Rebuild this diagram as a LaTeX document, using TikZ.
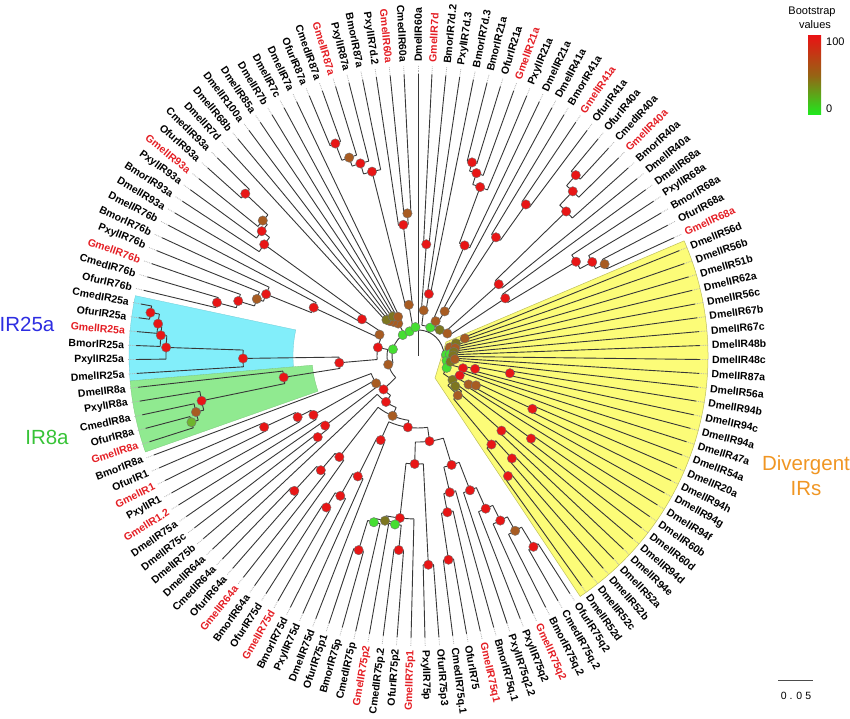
\documentclass[tikz,border=0pt]{standalone}
\usepackage{fontspec}
\setmainfont{Liberation Sans}
\definecolor{dred}{RGB}{232,22,22}
\definecolor{dbrown}{RGB}{168,92,34}
\definecolor{dolive}{RGB}{125,118,32}
\definecolor{dgreen}{RGB}{70,222,50}
\definecolor{dlgreen}{RGB}{110,180,45}
\definecolor{labred}{RGB}{228,30,36}
\definecolor{cyanf}{RGB}{130,238,250}
\definecolor{greenf}{RGB}{144,234,144}
\definecolor{yellowf}{RGB}{252,252,120}
\definecolor{brc}{RGB}{55,55,55}
\definecolor{lgtop}{RGB}{232,20,20}
\definecolor{lgmid}{RGB}{150,100,20}
\definecolor{lgbot}{RGB}{30,235,30}
\definecolor{bigblue}{RGB}{45,45,225}
\definecolor{biggreen}{RGB}{55,195,55}
\definecolor{bigorange}{RGB}{240,150,35}
\tikzset{
  br/.style={draw=brc,line width=0.9pt},
  ext/.style={draw=black!30,densely dotted,line width=0.8pt},
  lab/.style={inner sep=0pt,font=\fontsize{10.5}{13}\selectfont\bfseries},
  txt/.style={inner sep=0pt,font=\fontsize{11}{13}\selectfont},
  big/.style={inner sep=0pt,font=\fontsize{20.5}{24}\selectfont},
}
\newif\ifdotpass
\newcommand\arcr[3]{\ifdotpass\else
  \pgfmathsetmacro\tA{90-((#1)-1)*2.834646}%
  \pgfmathsetmacro\tB{90-((#2)-1)*2.834646}%
  \draw[br] (\tA:#3pt) arc[start angle=\tA,end angle=\tB,radius=#3pt];\fi}
\newcommand\stem[3]{\ifdotpass\else
  \pgfmathsetmacro\tA{90-((#1)-1)*2.834646}%
  \draw[br] (\tA:#2pt) -- (\tA:#3pt);\fi}
\newcommand\dt[3]{\ifdotpass
  \pgfmathsetmacro\tA{90-((#1)-1)*2.834646}%
  \fill[#3,draw=black!55,line width=0.4pt] (\tA:#2pt) circle[radius=4.7pt];\fi}
\newcommand\cl[5]{\pgfmathsetmacro\pM{((#1)+(#2))/2}%
  \arcr{#1}{#2}{#3}\stem{\pM}{#4}{#3}\dt{\pM}{#3}{#5}}
\newcommand\lf[4]{\ifdotpass\else
  \pgfmathsetmacro\tA{90-((#1)-1)*2.834646}%
  \draw[br] (\tA:#2pt) -- (\tA:282pt);
  \draw[ext] (\tA:282pt) -- (\tA:291pt);
  \ifdim\tA pt>270pt
    \node[lab,text=#4,anchor=west,rotate=\tA] (n#1) at (\tA:294pt) {#3};
  \else\ifdim\tA pt>90.01pt
    \pgfmathsetmacro\tB{\tA-180}%
    \node[lab,text=#4,anchor=east,rotate=\tB] (n#1) at (\tA:294pt) {#3};
  \else
    \node[lab,text=#4,anchor=west,rotate=\tA] (n#1) at (\tA:294pt) {#3};
  \fi\fi\fi}
\newcommand\lb[3]{\lf{#1}{#2}{#3}{black}}
\newcommand\lr[3]{\lf{#1}{#2}{#3}{labred}}
\newcommand\treebody{%
\stem{1}{0}{26}
\arcr{-36.4}{31.73}{26}
\dt{-25.5}{26}{dgreen}\dt{-11.7}{26}{dgreen}\dt{-5.7}{26}{dgreen}
% ---- lower left group
\cl{-46.31}{-26.49}{31}{26}{dbrown}
\cl{-50.19}{-42.4375}{48}{31}{dred}
\cl{-54.38}{-46}{56}{48}{dred}
\lb{-46}{56}{DmelIR64a}
\cl{-59.635}{-49.125}{65}{56}{dbrown}
\cl{-65.21}{-54.0625}{72}{65}{dred}
\cl{-61.875}{-68.55}{86}{72}{dred}
\cl{-60.25}{-63.5}{108}{86}{dred}
\cl{-58.5}{-62}{163}{108}{dred}
\lr{-62}{163}{GmelIR75p1}
\cl{-57.25}{-59.75}{168}{163}{dolive}
\cl{-56.5}{-58}{172}{168}{dgreen}
\cl{-57}{-56}{203}{172}{dred}
\lb{-57}{203}{BmorIR75p}
\lb{-56}{203}{OfurIR75p1}
\lb{-58}{172}{CmedIR75p}
\cl{-60.5}{-59}{170}{168}{dgreen}
\cl{-61}{-60}{195}{170}{dred}
\lb{-61}{195}{OfurIR75p2}
\lb{-60}{195}{CmedIR75p.2}
\lr{-59}{170}{GmelIR75p2}
\cl{-64}{-63}{209}{108}{dred}
\lb{-64}{209}{OfurIR75p3}
\lb{-63}{209}{PxylIR75p}
\cl{-67.125}{-69.97}{114}{86}{dred}
\cl{-68}{-66.25}{140}{114}{dred}
\lb{-68}{140}{BmorIR75q.1}
\cl{-67}{-65.5}{159}{140}{dred}
\lr{-67}{159}{GmelIR75q1}
\cl{-66}{-65}{206}{159}{dred}
\lb{-66}{206}{OfurIR75}
\lb{-65}{206}{CmedIR75q.1}
\cl{-70.9375}{-69}{144}{114}{dred}
\lb{-69}{144}{PxylIR75q2.2}
\cl{-71.875}{-70}{167}{144}{dred}
\lb{-70}{167}{PxylIR75q2}
\cl{-72.75}{-71}{184}{167}{dred}
\lr{-71}{184}{GmelIR75q2}
\cl{-73.5}{-72}{200}{184}{dbrown}
\lb{-72}{200}{BmorIR75q.2}
\cl{-74}{-73}{223}{200}{dred}
\lb{-74}{223}{OfurIR75q2}
\lb{-73}{223}{CmedIR75q.2}
\cl{-55}{-53.125}{92}{72}{dred}
\lb{-55}{92}{DmelIR75d}
\cl{-54}{-52.25}{134.6}{92}{dred}
\lb{-54}{134.6}{PxylIR75d}
\cl{-53}{-51.5}{160}{134.6}{dred}
\lb{-53}{160}{BmorIR75d}
\cl{-52}{-51}{177}{160}{dred}
\lr{-52}{177}{GmelIR75d}
\lb{-51}{177}{OfurIR75d}
\cl{-50}{-48.25}{128}{65}{dred}
\lb{-50}{128}{BmorIR64a}
\cl{-49}{-47.5}{150}{128}{dred}
\lr{-49}{150}{GmelIR64a}
\cl{-48}{-47}{183}{150}{dred}
\lb{-48}{183}{OfurIR64a}
\lb{-47}{183}{CmedIR64a}
\cl{-43.75}{-41.125}{50}{48}{dbrown}
\arcr{-41.125}{-38}{50}
\lb{-38}{50}{BmorIR8a}
\cl{-44.5}{-43}{116}{50}{dred}
\cl{-45}{-44}{129}{116}{dred}
\lb{-45}{129}{DmelIR75b}
\lb{-44}{129}{DmelIR75c}
\lb{-43}{116}{DmelIR75a}
\cl{-42}{-40.25}{120}{50}{dred}
\lr{-42}{120}{GmelIR1.2}
\cl{-41}{-39.5}{135}{120}{dred}
\lb{-41}{135}{PxylIR1}
\cl{-40}{-39}{169.5}{135}{dred}
\lr{-40}{169.5}{GmelIR1}
\lb{-39}{169.5}{OfurIR1}
% ---- IR25a / IR8a / 76b / 93a
\cl{-32.485}{-20.5}{41}{31}{dred}
\cl{-31.03}{-33.94}{79}{41}{dred}
\cl{-32}{-30.0625}{175}{79}{dred}
\lb{-32}{175}{DmelIR25a}
\cl{-31}{-29.125}{252}{175}{dred}
\lb{-31}{252}{PxylIR25a}
\cl{-30}{-28.25}{258}{252}{dred}
\lb{-30}{258}{BmorIR25a}
\cl{-29}{-27.5}{262}{258}{dred}
\lr{-29}{262}{GmelIR25a}
\cl{-28}{-27}{271}{262}{dred}
\lb{-28}{271}{OfurIR25a}
\lb{-27}{271}{CmedIR25a}
\cl{-34.875}{-33}{136}{79}{dred}
\lb{-33}{136}{DmelIR8a}
\cl{-35.75}{-34}{221}{136}{dred}
\lb{-34}{221}{PxylIR8a}
\cl{-36.5}{-35}{229}{221}{dbrown}
\lb{-35}{229}{CmedIR8a}
\cl{-37}{-36}{236}{229}{dlgreen}
\lr{-37}{236}{GmelIR8a}
\lb{-36}{236}{OfurIR8a}
\cl{-21.97}{-19.03}{44}{41}{dbrown}
\cl{-22.9375}{-21}{115}{44}{dred}
\lb{-21}{115}{DmelIR76b}
\cl{-23.875}{-22}{164}{115}{dred}
\lb{-22}{164}{BmorIR76b}
\cl{-24.75}{-23}{171}{164}{dbrown}
\lb{-23}{171}{PxylIR76b}
\cl{-25.5}{-24}{188}{171}{dred}
\lr{-24}{188}{GmelIR76b}
\cl{-26}{-25}{208}{188}{dred}
\lb{-26}{208}{OfurIR76b}
\lb{-25}{208}{CmedIR76b}
\cl{-20}{-18.0625}{67}{44}{dred}
\lb{-20}{67}{DmelIR93a}
\cl{-19}{-17.125}{190}{67}{dred}
\lb{-19}{190}{BmorIR93a}
\cl{-18}{-16.25}{200}{190}{dred}
\lb{-18}{200}{PxylIR93a}
\cl{-17}{-15.5}{206}{200}{dbrown}
\lr{-17}{206}{GmelIR93a}
\cl{-16}{-15}{237}{206}{dred}
\lb{-16}{237}{OfurIR93a}
\lb{-15}{237}{CmedIR93a}
% ---- Dmel comb
\cl{-11.625}{-8.5}{38}{26}{dbrown}
\cl{-12.75}{-10.5}{42}{38}{dbrown}
\cl{-13.5}{-12}{45}{42}{dbrown}
\cl{-14}{-13}{48}{45}{dolive}
\lb{-14}{48}{DmelIR7d}
\lb{-13}{48}{DmelIR68b}
\lb{-12}{45}{DmelIR100a}
\cl{-11}{-10}{47}{42}{dolive}
\lb{-11}{47}{DmelIR85a}
\lb{-10}{47}{DmelIR7b}
\cl{-9}{-8}{44}{38}{dbrown}
\lb{-9}{44}{DmelIR7c}
\lb{-8}{44}{DmelIR7a}
% ---- top
\cl{-2.595}{1}{29}{26}{dgreen}
\lb{1}{29}{DmelIR60a}
\cl{-3.94}{-1.25}{52}{29}{dbrown}
\cl{-4.875}{-3}{190}{52}{dred}
\lb{-3}{190}{BmorIR87a}
\cl{-5.75}{-4}{201}{190}{dred}
\lb{-4}{201}{PxylIR87a}
\cl{-6.5}{-5}{210}{201}{dbrown}
\lr{-5}{210}{GmelIR87a}
\cl{-7}{-6}{228}{210}{dred}
\lb{-7}{228}{OfurIR87a}
\lb{-6}{228}{CmedIR87a}
\cl{-2}{-0.5}{132}{52}{dred}
\lb{-2}{132}{PxylIR7d.2}
\cl{-1}{0}{143}{132}{dbrown}
\lr{-1}{143}{GmelIR60a}
\lb{0}{143}{CmedIR60a}
% ---- right
\cl{3.5}{14.985}{31}{26}{dgreen}
\cl{2.5}{4.5}{46}{31}{dbrown}
\cl{2}{3}{112}{46}{dred}
\lr{2}{112}{GmelIR7d}
\lb{3}{112}{BmorIR7d.2}
\cl{4}{5}{63}{46}{dred}
\lb{4}{63}{PxylIR7d.3}
\lb{5}{63}{BmorIR7d.3}
\cl{10.4675}{19.5}{34}{31}{dolive}
\cl{9.0625}{11.875}{39}{34}{dbrown}
\cl{8.125}{10}{120}{39}{dred}
\lb{10}{120}{DmelIR21a}
\cl{7.25}{9}{180}{120}{dred}
\lb{9}{180}{PxylIR21a}
\cl{6.5}{8}{192}{180}{dred}
\lr{8}{192}{GmelIR21a}
\cl{6}{7}{201}{192}{dred}
\lb{6}{201}{BmorIR21a}
\lb{7}{201}{OfurIR21a}
\cl{11}{12.75}{52}{39}{dbrown}
\lb{11}{52}{DmelIR41a}
\cl{12}{13.5}{142}{52}{dred}
\lb{12}{142}{BmorIR41a}
\cl{13}{14}{186}{142}{dred}
\lr{13}{186}{GmelIR41a}
\lb{14}{186}{OfurIR41a}
\cl{18.0625}{20.9375}{37}{34}{dbrown}
\cl{17.125}{19}{108}{37}{dred}
\lb{19}{108}{DmelIR40a}
\cl{16.25}{18}{207}{108}{dred}
\lb{18}{207}{BmorIR40a}
\cl{15.5}{17}{226}{207}{dred}
\lr{17}{226}{GmelIR40a}
\cl{15}{16}{240}{226}{dred}
\lb{15}{240}{OfurIR40a}
\lb{16}{240}{CmedIR40a}
\cl{20}{21.875}{104.6}{37}{dred}
\lb{20}{104.6}{DmelIR68a}
\cl{21}{22.75}{184}{104.6}{dred}
\lb{21}{184}{PxylIR68a}
\cl{22}{23.5}{198}{184}{dred}
\lb{22}{198}{BmorIR68a}
\cl{23}{24}{208}{198}{dbrown}
\lb{23}{208}{OfurIR68a}
\lr{24}{208}{GmelIR68a}
% ---- divergent
\cl{27.375}{36.0859}{28}{26}{dgreen}
\cl{26.25}{28.5}{33}{28}{dbrown}
\cl{25.5}{27}{40}{33}{dolive}
\cl{25}{26}{50}{40}{dbrown}
\lb{25}{50}{DmelIR56d}
\lb{26}{50}{DmelIR56b}
\lb{27}{40}{DmelIR51b}
\cl{28}{29}{38}{33}{dbrown}
\lb{28}{38}{DmelIR62a}
\lb{29}{38}{DmelIR56c}
\cl{31.5}{40.6719}{29}{28}{dgreen}
\cl{30.5}{32.5}{32}{29}{dgreen}
\cl{30}{31}{36}{32}{dolive}
\lb{30}{36}{DmelIR67b}
\lb{31}{36}{DmelIR67c}
\cl{32}{33}{35}{32}{dolive}
\lb{32}{35}{DmelIR48b}
\lb{33}{35}{DmelIR48c}
\cl{36.3125}{45.03125}{31}{29}{dgreen}
\cl{34.5}{38.125}{33}{31}{dolive}
\cl{34}{35}{37}{33}{dbrown}
\lb{34}{37}{DmelIR87a}
\lb{35}{37}{DmelIR56a}
\cl{37.25}{39}{46.6}{33}{dred}
\cl{36.5}{38}{58.5}{46.6}{dred}
\cl{36}{37}{93.5}{58.5}{dred}
\lb{36}{93.5}{DmelIR94b}
\lb{37}{93.5}{DmelIR94c}
\lb{38}{58.5}{DmelIR94a}
\lb{39}{46.6}{DmelIR47a}
\cl{41.5625}{48.5}{42}{31}{dolive}
\cl{40}{43.125}{46}{42}{dred}
\lb{40}{46}{DmelIR54a}
\cl{42.25}{44}{58}{46}{dbrown}
\cl{41.5}{43}{65}{58}{dbrown}
\cl{41}{42}{126}{65}{dred}
\lb{41}{126}{DmelIR20a}
\lb{42}{126}{DmelIR94h}
\lb{43}{65}{DmelIR94g}
\lb{44}{58}{DmelIR94f}
\cl{46.5}{50.5}{56}{42}{dbrown}
\cl{45.5}{47.5}{48}{56}{dolive}
\cl{45}{46}{140}{48}{dred}
\lb{45}{140}{DmelIR60b}
\lb{46}{140}{DmelIR60d}
\cl{47}{48}{112}{48}{dred}
\lb{47}{112}{DmelIR94d}
\lb{48}{112}{DmelIR94e}
\cl{49.5}{51.5}{115}{56}{dred}
\cl{49}{50}{139}{115}{dred}
\lb{49}{139}{DmelIR52a}
\lb{50}{139}{DmelIR52b}
\cl{51}{52}{150}{115}{dred}
\lb{51}{150}{DmelIR52c}
\lb{52}{150}{DmelIR52d}
}
\begin{document}
\begin{tikzpicture}[x=1pt,y=1pt]
\useasboundingbox (0,0) rectangle (850,718);
\begin{scope}[shift={(418,362)}]
  % shaded clades
  \filldraw[fill=cyanf,draw=cyanf!85!black,line width=0.3pt] (167.95:125pt) -- (167.95:289pt) arc[start angle=167.95,end angle=184.96,radius=289pt] -- (184.96:125pt) arc[start angle=184.96,end angle=167.95,radius=125pt] -- cycle;
  \filldraw[fill=greenf,draw=greenf!85!black,line width=0.3pt] (184.96:106pt) -- (184.96:289pt) arc[start angle=184.96,end angle=199.4,radius=289pt] -- (199.4:106pt) arc[start angle=199.4,end angle=184.96,radius=106pt] -- cycle;
  \filldraw[fill=yellowf,draw=yellowf!75!black,line width=0.5pt] (28,14) -- (23.4:290pt) arc[start angle=23.4,end angle=-56,radius=290pt] -- (17,-22) -- cycle;
  \dotpassfalse
  \treebody
  \dotpasstrue
  \treebody
\end{scope}
% clade names
\node[big,text=bigblue] (t25) at (27,394) {IR25a};
\node[big,text=biggreen] (t8) at (47,281) {IR8a};
\node[big,text=bigorange] (tdv) at (806,253) {Divergent};
\node[big,text=bigorange] (tir) at (806,229) {IRs};
% legend
\node[txt] (lg1) at (812,706) {Bootstrap};
\node[txt] (lg2) at (815,693) {values};
\shade[top color=lgtop,bottom color=lgbot,middle color=lgmid] (808,603) rectangle (821,682);
\node[txt,anchor=west] (lg3) at (826,676) {100};
\node[txt,anchor=west] (lg4) at (826,609) {0};
% scale bar
\coordinate (sb1) at (778,38);
\coordinate (sb2) at (813,38);
\draw[black!70,line width=1pt] (sb1) -- (sb2);
\node[txt,font=\fontsize{10.5}{12}\selectfont] (sbt) at (796,22) {0 . 0 5};
\end{tikzpicture}
\end{document}
